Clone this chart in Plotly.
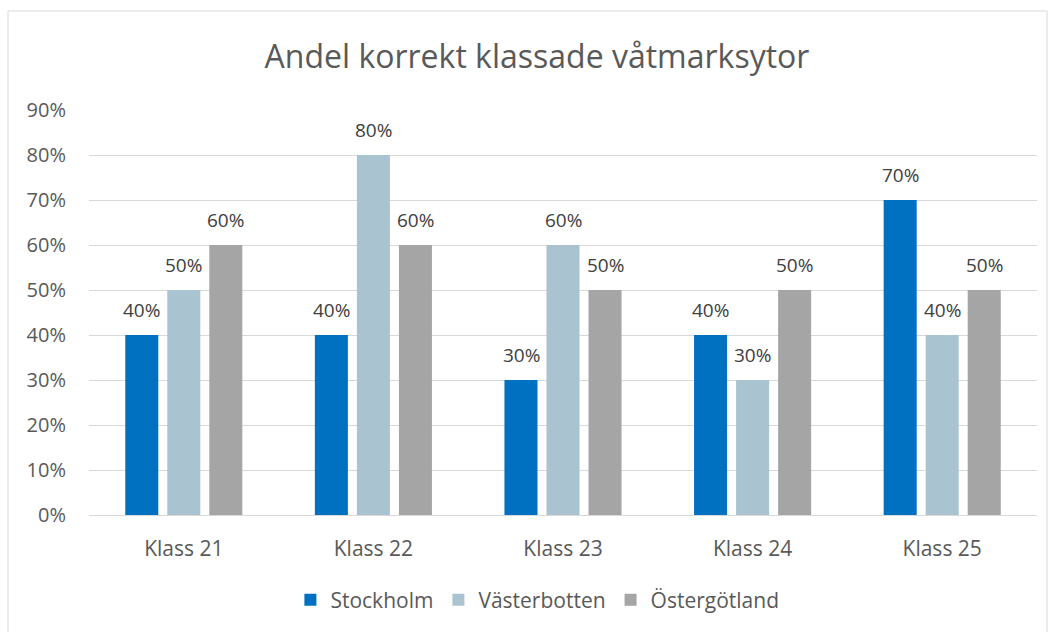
import plotly.graph_objects as go

categories = ["Klass 21", "Klass 22", "Klass 23", "Klass 24", "Klass 25"]
series_names = ["Stockholm", "Västerbotten", "Östergötland"]
stockholm = [0.40, 0.40, 0.30, 0.40, 0.70]
vasterbotten = [0.50, 0.80, 0.60, 0.30, 0.40]
ostergotland = [0.60, 0.60, 0.50, 0.50, 0.50]
colors = ["#0070C0", "#A9C4D0", "#A5A5A5"]
y_ticks = [0, 0.1, 0.2, 0.3, 0.4, 0.5, 0.6, 0.7, 0.8, 0.9]

FONT = "Open Sans, Liberation Sans, sans-serif"
TXT = "#595959"

fig = go.Figure()
all_series = [stockholm, vasterbotten, ostergotland]
for name, vals, col in zip(series_names, all_series, colors):
    fig.add_trace(go.Bar(name=name, x=categories, y=vals, marker=dict(color=col, line=dict(width=0))))

annotations = []
slot_px = 42
for i, vals in enumerate(all_series):
    for c, v in zip(categories, vals):
        annotations.append(dict(
            x=c, y=v, xref="x", yref="y", text=f"{round(v*100)}%",
            showarrow=False, xshift=(i - 1) * slot_px, yshift=25,
            font=dict(family=FONT, size=19, color="#404040")))

fig.update_layout(
    width=1056, height=632,
    paper_bgcolor="white", plot_bgcolor="white",
    margin=dict(l=89, r=19, t=110, b=117),
    barmode="group", bargap=0.335, bargroupgap=0.214,
    title=dict(text="Andel korrekt klassade våtmarksytor", x=537 / 1056, xanchor="center",
               y=1 - 57 / 632, yanchor="middle",
               font=dict(family=FONT, size=32, color=TXT)),
    font=dict(family=FONT, size=20, color=TXT),
    yaxis=dict(range=[0, 0.9], tickvals=y_ticks, tickformat=".0%", showgrid=True,
               gridcolor="#D9D9D9", gridwidth=1, zeroline=False, showline=False,
               ticks="", ticklabelstandoff=22, tickfont=dict(size=20, color=TXT)),
    xaxis=dict(showline=True, linecolor="#D9D9D9", linewidth=1, ticks="",
               tickfont=dict(size=21, color=TXT), ticklabelstandoff=15),
    legend=dict(orientation="h", x=0.473, xanchor="center", y=-0.21, yanchor="middle",
                font=dict(size=21, color=TXT), itemwidth=30, traceorder="normal"),
    annotations=annotations,
    shapes=[dict(type="rect", xref="paper", yref="paper",
                 x0=(8 - 89) / 948, x1=(1047 - 89) / 948,
                 y0=-(640 - 515) / 405, y1=(515 - 11) / 405,
                 line=dict(color="#D9D9D9", width=1), fillcolor="rgba(0,0,0,0)",
                 layer="below")],
)

fig.write_html("out.html", config={"displayModeBar": False},
               post_script="document.body.style.margin='0';")
